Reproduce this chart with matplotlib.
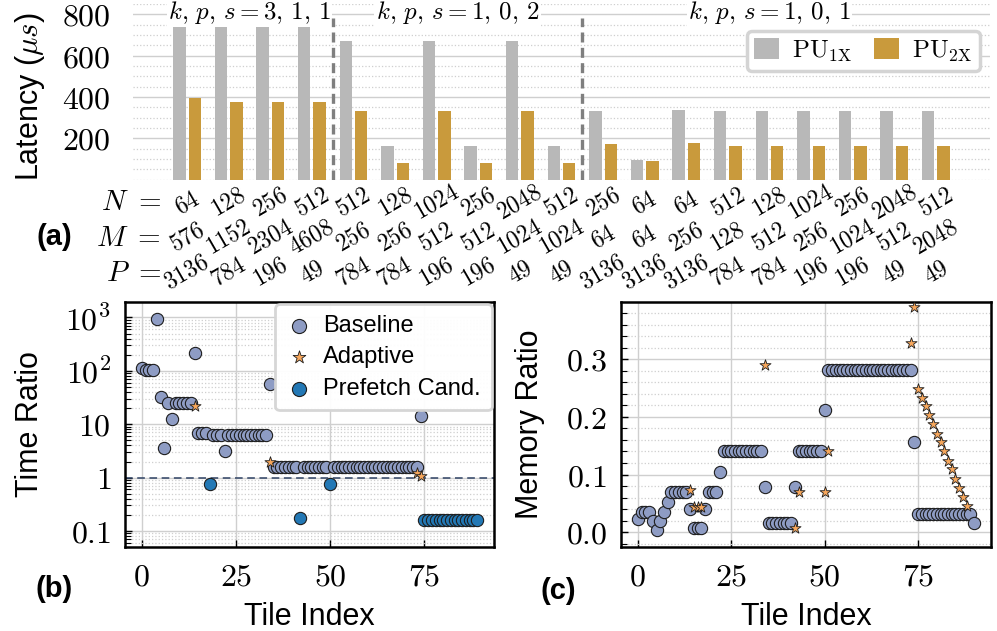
import matplotlib
matplotlib.use('Agg')
import matplotlib.pyplot as plt
import numpy as np
from matplotlib.ticker import MultipleLocator, LogLocator, NullFormatter

plt.rcParams['font.family'] = ['Liberation Sans', 'DejaVu Sans']
plt.rcParams['mathtext.fontset'] = 'cm'

# ---- (a) latency per layer shape ----
N_vals = [64, 128, 256, 512, 512, 128, 1024, 256, 2048, 512,
          256, 64, 64, 512, 128, 1024, 256, 2048, 512]
M_vals = [576, 1152, 2304, 4608, 256, 256, 512, 512, 1024, 1024,
          64, 64, 256, 128, 512, 256, 1024, 512, 2048]
P_vals = [3136, 784, 196, 49, 784, 784, 196, 196, 49, 49,
          3136, 3136, 3136, 784, 784, 196, 196, 49, 49]
pu1 = [757, 753, 753, 757, 670, 164, 670, 164, 670, 164,
       332, 93, 338, 332, 332, 332, 332, 332, 332]
pu2 = [397, 374, 374, 377, 332, 82, 332, 79, 332, 79,
       171, 90, 176, 164, 164, 164, 164, 164, 164]
group_labels = [r'$k,\,p,\,s=3,\,1,\,1$', r'$k,\,p,\,s=1,\,0,\,2$', r'$k,\,p,\,s=1,\,0,\,1$']
group_sizes = [4, 6, 9]

# ---- (b) time ratio per tile ----
time_base = [115, 105, 102, 102, 920, 32, 3.6, 25, 12.6, 25,
             25, 25, 25, 25, 218, 6.9, 6.9, 6.9, 0.77, 6.2,
             6.2, 6.2, 3.1, 6.2, 6.2, 6.2, 6.2, 6.2, 6.2, 6.2,
             6.2, 6.2, 6.2, 6.2, 55.6, 1.56, 1.56, 1.56, 1.56, 1.56,
             1.56, 1.56, 0.175, 1.56, 1.56, 1.56, 1.56, 1.56, 1.56, 1.56,
             0.76, 1.56, 1.56, 1.56, 1.56, 1.56, 1.56, 1.56, 1.56, 1.56,
             1.56, 1.56, 1.56, 1.56, 1.56, 1.56, 1.56, 1.56, 1.56, 1.56,
             1.56, 1.56, 1.56, 1.56, 14.1, 0.163, 0.163, 0.163, 0.163, 0.163,
             0.163, 0.163, 0.163, 0.163, 0.163, 0.163, 0.163, 0.163, 0.163, 0.163]
prefetch_idx = [18, 42, 50, 75, 76, 77, 78, 79, 80, 81, 82, 83, 84, 85, 86, 87, 88, 89]
time_adapt_idx = [14, 34, 73, 74]
time_adapt = [22, 2.0, 1.2, 1.06]

# ---- (c) memory ratio per tile ----
mem_base = [0.0225, 0.035, 0.035, 0.035, 0.020, 0.004, 0.020, 0.035, 0.053, 0.070,
            0.070, 0.070, 0.070, 0.070, 0.040, 0.007, 0.007, 0.007, 0.040, 0.070,
            0.070, 0.070, 0.105, 0.140, 0.140, 0.140, 0.140, 0.140, 0.140, 0.140,
            0.140, 0.140, 0.140, 0.140, 0.078, 0.0155, 0.0155, 0.0155, 0.0155, 0.0155,
            0.0155, 0.0155, 0.078, 0.140, 0.140, 0.140, 0.140, 0.140, 0.140, 0.140,
            0.212, 0.281, 0.281, 0.281, 0.281, 0.281, 0.281, 0.281, 0.281, 0.281,
            0.281, 0.281, 0.281, 0.281, 0.281, 0.281, 0.281, 0.281, 0.281, 0.281,
            0.281, 0.281, 0.281, 0.281, 0.156, 0.031, 0.031, 0.031, 0.031, 0.031,
            0.031, 0.031, 0.031, 0.031, 0.031, 0.031, 0.031, 0.031, 0.031, 0.031,
            0.0155]
mem_adapt_idx = [14, 15, 16, 17, 34, 42, 43, 50, 51, 73, 74,
                 75, 76, 77, 78, 79, 80, 81, 82, 83, 84, 85, 86, 87, 88]
mem_adapt = [0.074, 0.043, 0.043, 0.043, 0.289, 0.007, 0.070, 0.070, 0.140, 0.328, 0.390,
             0.249, 0.233, 0.218, 0.203, 0.187, 0.171, 0.156, 0.140, 0.124, 0.109,
             0.093, 0.077, 0.061, 0.046]

C_GRAY = '#b8b8b8'
C_GOLD = '#c99a3c'
C_BASE = '#8e9cc4'
C_STAR = '#f7a75c'
C_PREF = '#2378b5'
C_EDGE = '#1e1e1e'
GRID = '#cfcfcf'

fig = plt.figure(figsize=(9.97, 6.31), dpi=100)

# ================= (a) =================
ax = fig.add_axes([133 / 997, 1 - 179.6 / 631, 857 / 997, 175.5 / 631])
x = np.arange(len(N_vals))
ax.bar(x - 0.185, pu1, 0.3, color=C_GRAY, label=r'$\mathrm{PU}_{1\mathrm{X}}$', zorder=2)
ax.bar(x + 0.185, pu2, 0.3, color=C_GOLD, label=r'$\mathrm{PU}_{2\mathrm{X}}$', zorder=2)
ax.set_xlim(-1.3, len(N_vals) - 1 + 1.3)
ax.set_ylim(0, 850)
ax.set_yticks([200, 400, 600, 800])
ax.set_yticklabels(['$%d$' % v for v in [200, 400, 600, 800]], fontsize=23)
ax.yaxis.set_minor_locator(MultipleLocator(50))
ax.set_xticks([])
ax.tick_params(axis='y', which='both', length=0, pad=16)
ax.grid(which='major', axis='y', color=GRID, lw=1.0)
ax.grid(which='minor', axis='y', color=GRID, ls=':', lw=0.9)
ax.set_axisbelow(True)
for s in ax.spines.values():
    s.set_visible(False)

start = 0
for lab, n in zip(group_labels, group_sizes):
    centre = start + (n - 1) / 2
    ax.text(centre, 810, lab, ha='center', va='center', fontsize=18, zorder=3,
            bbox=dict(facecolor='white', edgecolor='none', pad=1))
    if start + n < len(N_vals):
        ax.vlines(start + n - 0.5, 0, 785, colors='#7f7f7f', linestyles=(0, (3, 1.6)),
                  lw=2.4, zorder=3)
    start += n

for i in range(len(N_vals)):
    for yy, vals in zip([-0.133, -0.33, -0.53], [N_vals, M_vals, P_vals]):
        ax.text(i, yy, '$%d$' % vals[i], transform=ax.get_xaxis_transform(),
                rotation=30, ha='center', va='center', fontsize=17)

for yy, lab in zip([202, 238, 273], ['N', 'M', 'P']):
    fig.text(161 / 997, 1 - yy / 631, r'$%s\ =$' % lab, ha='right', va='center', fontsize=21)

leg = ax.legend(loc='upper right', bbox_to_anchor=(0.988, 0.847), ncol=2, fontsize=18,
                handlelength=1.0, handleheight=0.9, handletextpad=0.5, columnspacing=0.9,
                borderaxespad=0, borderpad=0.3, fancybox=True, framealpha=1)
leg.get_frame().set_edgecolor('#d4d4d4')
leg.get_frame().set_linewidth(2.5)

fig.text(30 / 997, 1 - 97 / 631, r'Latency ($\mu s$)', rotation=90, ha='center',
         va='center', fontsize=22)
fig.text(54 / 997, 1 - 237 / 631, '(a)', ha='center', va='center', fontsize=21,
         fontweight='bold')


def style_bottom(a):
    a.set_xticks([0, 25, 50, 75])
    a.set_xticklabels(['$0$', '$25$', '$50$', '$75$'], fontsize=23)
    a.tick_params(which='both', direction='in', top=False, right=False)
    a.tick_params(which='major', length=5, width=1.0)
    a.tick_params(which='minor', length=4, width=0.8)
    a.tick_params(axis='x', pad=11)
    a.tick_params(axis='y', pad=10)
    a.tick_params(axis='x', which='minor', bottom=False)
    a.grid(which='major', color=GRID, lw=1.0)
    a.grid(which='minor', axis='y', color=GRID, ls=':', lw=0.9)
    a.set_axisbelow(True)
    for s in a.spines.values():
        s.set_linewidth(1.8)
        s.set_color('black')


# ================= (b) =================
axb = fig.add_axes([125 / 997, 1 - 547 / 631, 369 / 997, 245 / 631])
tiles = np.arange(len(time_base))
is_pref = np.isin(tiles, prefetch_idx)
time_arr = np.array(time_base)
axb.scatter(tiles[~is_pref], time_arr[~is_pref], s=78, c=C_BASE, edgecolors=C_EDGE,
            linewidths=0.8, zorder=3, label='Baseline')
axb.scatter(time_adapt_idx, time_adapt, s=70, marker='*', c=C_STAR, edgecolors=C_EDGE,
            linewidths=0.6, zorder=4, label='Adaptive')
axb.scatter(tiles[is_pref], time_arr[is_pref], s=78, c=C_PREF, edgecolors=C_EDGE,
            linewidths=0.8, zorder=3, label='Prefetch Cand.')
axb.axhline(1, ls=(0, (5, 3)), color='#2f4365', lw=1.1, zorder=2)
axb.set_yscale('log')
axb.set_ylim(0.05, 1950)
axb.set_yticks([0.1, 1, 10, 100, 1000])
axb.set_yticklabels(['$0.1$', '$1$', '$10$', '$10^2$', '$10^3$'], fontsize=23)
axb.yaxis.set_minor_locator(LogLocator(base=10, subs=np.arange(2, 10)))
axb.yaxis.set_minor_formatter(NullFormatter())
style_bottom(axb)
lb = axb.legend(loc='upper right', bbox_to_anchor=(1.0, 1.0), fontsize=17, markerscale=1.15,
                handlelength=1.15, handletextpad=0.45, labelspacing=0.4, borderaxespad=0.1,
                borderpad=0.45, fancybox=True, framealpha=0.95)
lb.get_frame().set_edgecolor('#d4d4d4')
lb.get_frame().set_linewidth(2.0)
fig.text(30 / 997, 1 - 424.5 / 631, 'Time Ratio', rotation=90, ha='center', va='center',
         fontsize=22)
fig.text(309.5 / 997, 1 - 617 / 631, 'Tile Index', ha='center', va='center', fontsize=22)
fig.text(54 / 997, 1 - 589 / 631, '(b)', ha='center', va='center', fontsize=21,
         fontweight='bold')

# ================= (c) =================
axc = fig.add_axes([621 / 997, 1 - 547 / 631, 370 / 997, 245 / 631])
tiles_c = np.arange(len(mem_base))
axc.scatter(tiles_c, mem_base, s=78, c=C_BASE, edgecolors=C_EDGE, linewidths=0.8, zorder=3)
axc.scatter(mem_adapt_idx, mem_adapt, s=70, marker='*', c=C_STAR, edgecolors=C_EDGE,
            linewidths=0.6, zorder=4)
axc.set_ylim(-0.0255, 0.399)
axc.set_yticks([0.0, 0.1, 0.2, 0.3])
axc.set_yticklabels(['$0.0$', '$0.1$', '$0.2$', '$0.3$'], fontsize=23)
axc.yaxis.set_minor_locator(MultipleLocator(0.02))
style_bottom(axc)
fig.text(530 / 997, 1 - 424.5 / 631, 'Memory Ratio', rotation=90, ha='center',
         va='center', fontsize=22)
fig.text(806 / 997, 1 - 617 / 631, 'Tile Index', ha='center', va='center', fontsize=22)
fig.text(558 / 997, 1 - 591 / 631, '(c)', ha='center', va='center', fontsize=21,
         fontweight='bold')

fig.savefig('out.png', dpi=100)
